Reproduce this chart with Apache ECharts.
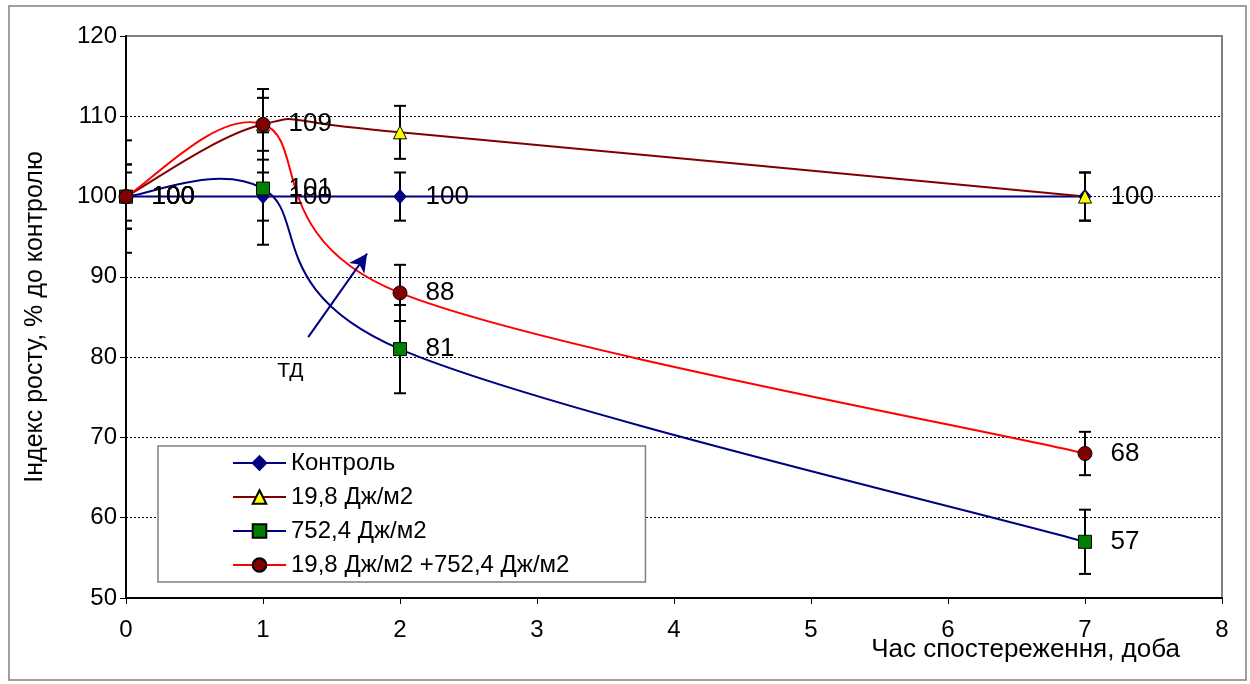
<!DOCTYPE html>
<html><head><meta charset="utf-8">
<script src="https://cdn.jsdelivr.net/npm/echarts@6/dist/echarts.min.js"></script>
<style>html,body{margin:0;padding:0;background:#fff}#c{width:1250px;height:684px}</style>
</head><body><div id="c"></div>
<script>
// ---- data ----
const days = [0, 1, 2, 7];
const seriesNames = ['Контроль', '19,8 Дж/м2', '752,4 Дж/м2', '19,8 Дж/м2 +752,4 Дж/м2'];
const control = [100, 100, 100, 100];
const dose19 = [100, 109, 108, 100];
const dose752 = [100, 101, 81, 57];
const combo = [100, 109, 88, 68];
const errControl = [3, 3, 3, 3];
const errDose19 = [4, 3.3, 3.3, 3];
const errDose752 = [7, 7, 5.5, 4];
const errCombo = [4, 4.4, 3.5, 2.7];
const yTicks = { min: 50, max: 120, step: 10 };
const xTicks = { min: 0, max: 8, step: 1 };
const arrowFrom = [1.33, 82.5];
const arrowTo = [1.76, 92.9];
const arrowLabel = 'ТД';
const arrowLabelAt = [1.2, 78.3];
const xName = 'Час спостереження, доба';
const yName = 'Індекс росту, % до контролю';

// ---- styles ----
const FONT = 'Liberation Sans, Arial, sans-serif';
const lineColors = ['#000080', '#800000', '#000080', '#FF0000'];
const markerColors = ['#000080', '#FFFF00', '#008000', '#800000'];
const symbols = ['diamond', 'triangle', 'rect', 'circle'];
const symbolSizes = [[12, 14], 13, 13, 14];
const showLabels = [true, false, true, true];
const values = [control, dose19, dose752, combo];
const errs = [errControl, errDose19, errDose752, errCombo];

const chart = echarts.init(document.getElementById('c'), null, { renderer: 'canvas' });

function pairs(arr) { return days.map((d, i) => [d, arr[i]]); }

// Excel-like smoothed curve (Catmull-Rom Bezier, tension 1/6) through data points mapped by the axes
function curveSeries(k) {
  const vals = values[k];
  return {
    type: 'custom', name: 'curve' + k, silent: true, z: 1, clip: false,
    data: pairs(vals),
    renderItem: function (params, api) {
      if (params.dataIndex !== 0) return null;
      const P = days.map((d, i) => api.coord([d, vals[i]]));
      const n = P.length;
      let d = 'M' + P[0][0] + ',' + P[0][1];
      for (let i = 0; i < n - 1; i++) {
        const p0 = P[Math.max(i - 1, 0)], p1 = P[i], p2 = P[i + 1], p3 = P[Math.min(i + 2, n - 1)];
        const c1 = [p1[0] + (p2[0] - p0[0]) / 6, p1[1] + (p2[1] - p0[1]) / 6];
        const c2 = [p2[0] - (p3[0] - p1[0]) / 6, p2[1] - (p3[1] - p1[1]) / 6];
        d += ' C' + c1[0] + ',' + c1[1] + ' ' + c2[0] + ',' + c2[1] + ' ' + p2[0] + ',' + p2[1];
      }
      return { type: 'path', shape: { pathData: d }, style: { stroke: lineColors[k], lineWidth: 2, fill: 'none' } };
    }
  };
}

// error bars
const errData = [];
values.forEach((vals, k) => vals.forEach((v, i) => errData.push([days[i], v - errs[k][i], v + errs[k][i]])));
const errSeries = {
  type: 'custom', name: 'err', silent: true, z: 3, clip: true,
  data: errData,
  encode: { x: 0, y: [1, 2] },
  renderItem: function (params, api) {
    const lo = api.coord([api.value(0), api.value(1)]);
    const hi = api.coord([api.value(0), api.value(2)]);
    const w = 6;
    const st = { stroke: '#000', lineWidth: 2 };
    return {
      type: 'group', children: [
        { type: 'line', shape: { x1: lo[0], y1: lo[1], x2: hi[0], y2: hi[1] }, style: st },
        { type: 'line', shape: { x1: lo[0] - w, y1: lo[1], x2: lo[0] + w, y2: lo[1] }, style: st },
        { type: 'line', shape: { x1: hi[0] - w, y1: hi[1], x2: hi[0] + w, y2: hi[1] }, style: st }
      ]
    };
  }
};

const markerSeries = seriesNames.map((name, k) => {
  const sz = Array.isArray(symbolSizes[k]) ? symbolSizes[k][0] : symbolSizes[k];
  const s = {
    type: 'line', name: name, z: 5,
    data: pairs(values[k]),
    symbol: symbols[k], symbolSize: symbolSizes[k], showAllSymbol: true,
    lineStyle: { color: lineColors[k], width: 2, opacity: 0 },
    itemStyle: { color: markerColors[k], borderColor: k === 0 ? '#000080' : '#000', borderWidth: 1, opacity: 1 },
    emphasis: { disabled: true },
    label: {
      show: showLabels[k], position: 'right', distance: 25 - sz / 2,
      formatter: p => String(p.value[1]),
      fontFamily: FONT, fontSize: 26, color: '#000'
    }
  };
  if (k === 0) {
    s.markLine = {
      silent: true, symbol: ['none', 'arrow'], symbolSize: [14, 18],
      lineStyle: { color: '#000080', width: 2, type: 'solid' },
      label: { show: false },
      data: [[{ coord: arrowFrom }, { coord: arrowTo }]]
    };
    s.markPoint = {
      silent: true, symbol: 'circle', symbolSize: 0,
      label: { show: true, position: 'inside', formatter: arrowLabel, fontFamily: FONT, fontSize: 21, color: '#000' },
      data: [{ coord: arrowLabelAt }]
    };
  }
  return s;
});

const option = {
  animation: false,
  backgroundColor: '#fff',
  graphic: [{ type: 'rect', shape: { x: 9, y: 6, width: 1237, height: 674 }, style: { fill: 'none', stroke: '#808080', lineWidth: 1.5 }, z: -1 }],
  title: {
    text: xName, right: 70, top: 637, padding: 0,
    textStyle: { fontFamily: FONT, fontSize: 26, fontWeight: 'normal', color: '#000' }
  },
  grid: { left: 126, top: 36, right: 28, bottom: 86, containLabel: false, outerBoundsMode: 'none', show: true, borderColor: '#808080', borderWidth: 2, backgroundColor: 'transparent' },
  xAxis: {
    type: 'value', min: xTicks.min, max: xTicks.max, interval: xTicks.step,
    axisLine: { show: true, lineStyle: { color: '#000', width: 2 } },
    axisTick: { show: true, length: 6, lineStyle: { color: '#000', width: 1 } },
    axisLabel: { margin: 20, fontFamily: FONT, fontSize: 24, color: '#000' },
    splitLine: { show: false }
  },
  yAxis: {
    type: 'value', min: yTicks.min, max: yTicks.max, interval: yTicks.step,
    axisLine: { show: true, lineStyle: { color: '#000', width: 2 } },
    axisTick: { show: true, length: 6, lineStyle: { color: '#000', width: 1 } },
    axisLabel: { margin: 9, fontFamily: FONT, fontSize: 24, color: '#000' },
    splitLine: { show: true, showMaxLine: false, showMinLine: false, lineStyle: { color: '#000', width: 1, type: [2, 2] } },
    name: yName, nameLocation: 'middle', nameGap: 78, nameRotate: 90,
    nameTextStyle: { fontFamily: FONT, fontSize: 25, color: '#000' }
  },
  legend: {
    orient: 'vertical', left: 158, top: 446,
    padding: [5, 76, 5, 74],
    itemWidth: 53, itemHeight: 17, itemGap: 10,
    backgroundColor: '#fff', borderColor: '#808080', borderWidth: 1.5, borderRadius: 0,
    textStyle: { fontFamily: FONT, fontSize: 24, color: '#000', lineHeight: 24 },
    selectedMode: false,
    data: seriesNames.map((n, k) => ({ name: n, lineStyle: { color: lineColors[k], width: 2, opacity: 1 }, itemStyle: { opacity: 1 } }))
  },
  series: [curveSeries(0), curveSeries(1), curveSeries(2), curveSeries(3), errSeries].concat(markerSeries)
};
chart.setOption(option);
</script></body></html>
